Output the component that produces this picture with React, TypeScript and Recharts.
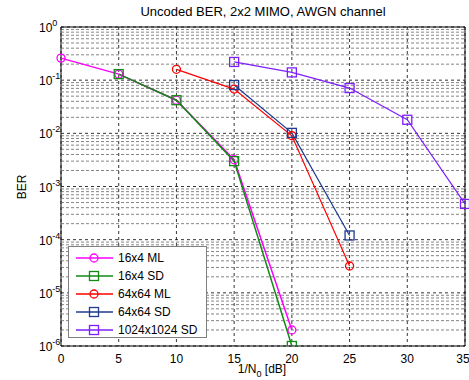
import * as React from 'react';
import {
  LineChart,
  Line,
  XAxis,
  YAxis,
  CartesianGrid,
  ReferenceLine,
  ReferenceArea,
  Label,
} from 'recharts';

const snrDb = [0, 5, 10, 15, 20, 25, 30, 35];
const ber16x4ML = [0.26, 0.13, 0.042, 0.0032, 2e-6, null, null, null];
const ber16x4SD = [null, 0.13, 0.042, 0.003, 1e-6, null, null, null];
const ber64x64ML = [null, null, 0.16, 0.068, 0.009, 3.2e-5, null, null];
const ber64x64SD = [null, null, null, 0.081, 0.0102, 1.2e-4, null, null];
const ber1024SD = [null, null, null, 0.22, 0.14, 0.071, 0.018, 4.7e-4];

const xTicks = [0, 5, 10, 15, 20, 25, 30, 35];
const decades = [1e-6, 1e-5, 1e-4, 1e-3, 1e-2, 1e-1, 1];

const FONT = '"Liberation Sans", Arial, sans-serif';

interface SeriesDef {
  key: string;
  name: string;
  color: string;
  marker: 'circle' | 'square';
  width: number;
}

const series: SeriesDef[] = [
  { key: 'ml16', name: '16x4 ML', color: '#ff00ff', marker: 'circle', width: 1.5 },
  { key: 'sd16', name: '16x4 SD', color: '#138a13', marker: 'square', width: 1.5 },
  { key: 'ml64', name: '64x64 ML', color: '#ff0000', marker: 'circle', width: 1.2 },
  { key: 'sd64', name: '64x64 SD', color: '#1f3a8f', marker: 'square', width: 1.2 },
  { key: 'sd1024', name: '1024x1024 SD', color: '#7f1fff', marker: 'square', width: 1.2 },
];

const data = snrDb.map((x, i) => ({
  snr: x,
  ml16: ber16x4ML[i],
  sd16: ber16x4SD[i],
  ml64: ber64x64ML[i],
  sd64: ber64x64SD[i],
  sd1024: ber1024SD[i],
}));

// MATLAB style minor grid: 2..9 within every decade
const minorLines: number[] = [];
decades.slice(0, -1).forEach((d) => {
  for (let m = 2; m <= 9; m++) minorLines.push(m * d);
});

function Marker({ cx, cy, color, shape }: { cx: number; cy: number; color: string; shape: string }) {
  if (shape === 'circle') {
    return <circle cx={cx} cy={cy} r={4} fill="none" stroke={color} strokeWidth={1.3} />;
  }
  return <rect x={cx - 4.5} y={cy - 4.5} width={9} height={9} fill="none" stroke={color} strokeWidth={1.3} />;
}

function makeDot(s: SeriesDef) {
  return (props: any) => {
    const { cx, cy, index, value } = props;
    if (value == null || cy == null || isNaN(cy)) return <g key={`${s.key}-${index}`} />;
    return (
      <g key={`${s.key}-${index}`}>
        <Marker cx={cx} cy={cy} color={s.color} shape={s.marker} />
      </g>
    );
  };
}

function YTick({ x, y, payload }: any) {
  const exp = Math.round(Math.log10(payload.value));
  return (
    <text x={x - 14} y={y + 5} textAnchor="start" fontSize={12} fontFamily={FONT} fill="#000">
      10
      <tspan dy={-6} fontSize={9}>{exp}</tspan>
    </text>
  );
}

function LegendBox() {
  return (
    <div
      style={{
        position: 'absolute',
        left: 68,
        top: 246,
        width: 139,
        height: 92,
        boxSizing: 'border-box',
        border: '1px solid #808080',
        background: '#fff',
        fontFamily: FONT,
        fontSize: 12,
        paddingTop: 2,
      }}
    >
      {series.map((s) => (
        <div key={s.key} style={{ display: 'flex', alignItems: 'center', height: 18 }}>
          <svg width={48} height={14} style={{ marginLeft: 7 }}>
            <line x1={0} y1={7} x2={37} y2={7} stroke={s.color} strokeWidth={1.5} />
            <Marker cx={18} cy={7} color={s.color} shape={s.marker} />
          </svg>
          <span style={{ marginLeft: -6 }}>{s.name}</span>
        </div>
      ))}
    </div>
  );
}

export default function App() {
  return (
    <div style={{ position: 'absolute', left: 0, top: 0, width: 469, height: 380, background: '#fff' }}>
      <div
        style={{
          position: 'absolute',
          left: 61,
          width: 404,
          top: 4,
          textAlign: 'center',
          fontFamily: FONT,
          fontSize: 13,
        }}
      >
        Uncoded BER, 2x2 MIMO, AWGN channel
      </div>
      <LineChart width={469} height={380} data={data} margin={{ top: 27, right: 4, left: 10, bottom: 0 }}>
        <CartesianGrid stroke="#000" strokeDasharray="3 3" strokeWidth={0.8} />
        {minorLines.map((v) => (
          <ReferenceLine key={v} y={v} stroke="#666" strokeDasharray="3 2" strokeWidth={0.8} />
        ))}
        <XAxis
          dataKey="snr"
          type="number"
          domain={[0, 35]}
          ticks={xTicks}
          axisLine={false}
          tickLine={false}
          tick={{ fill: '#000', fontSize: 12, fontFamily: FONT }}
          tickMargin={2}
          height={34}
        >
          <Label
            content={() => (
              <text x={262} y={373} textAnchor="middle" fontSize={12} fontFamily={FONT} fill="#000">
                1/N
                <tspan dy={4} fontSize={9}>0</tspan>
                <tspan dy={-4}> [dB]</tspan>
              </text>
            )}
          />
        </XAxis>
        <YAxis
          scale="log"
          domain={[1e-6, 1]}
          ticks={decades}
          allowDataOverflow
          axisLine={false}
          tickLine={false}
          tick={<YTick />}
          width={51}
        >
          <Label
            content={() => (
              <text
                x={26}
                y={187}
                textAnchor="middle"
                fontSize={12}
                fontFamily={FONT}
                fill="#000"
                transform="rotate(-90 26 187)"
              >
                BER
              </text>
            )}
          />
        </YAxis>
        <ReferenceArea x1={0} x2={35} y1={1e-6} y2={1} fill="none" stroke="#000" strokeWidth={1} />
        {series.map((s) => (
          <Line
            key={s.key}
            dataKey={s.key}
            name={s.name}
            type="linear"
            stroke={s.color}
            strokeWidth={s.width}
            dot={makeDot(s)}
            activeDot={false}
            connectNulls
            isAnimationActive={false}
          />
        ))}
      </LineChart>
      <LegendBox />
    </div>
  );
}
